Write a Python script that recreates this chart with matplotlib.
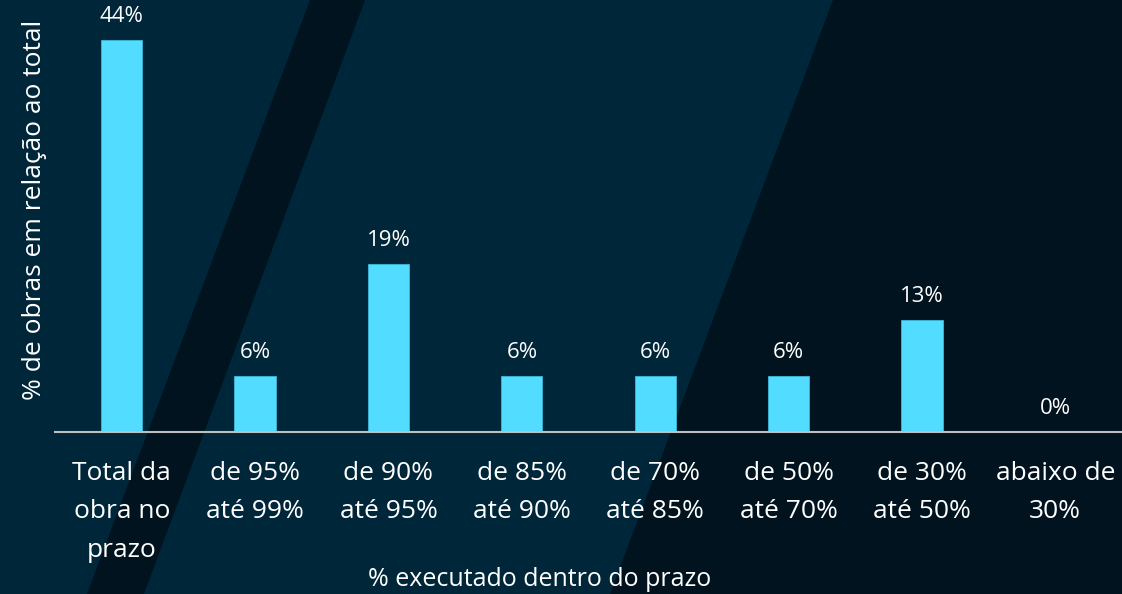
import matplotlib.pyplot as plt
from matplotlib.patches import Polygon

plt.rcParams['font.family'] = ['Open Sans', 'DejaVu Sans']

# dados do gráfico
categorias = ['Total da\nobra no\nprazo', 'de 95%\naté 99%', 'de 90%\naté 95%',
              'de 85%\naté 90%', 'de 70%\naté 85%', 'de 50%\naté 70%',
              'de 30%\naté 50%', 'abaixo de\n30%']
valores = [43.75, 6.25, 18.75, 6.25, 6.25, 6.25, 12.5, 0]

cor_fundo = '#002639'
cor_escura = '#00131F'
cor_barra = '#52DCFF'

W, H = 1122, 594
fig = plt.figure(figsize=(W / 100, H / 100), dpi=100)
fig.patch.set_facecolor(cor_fundo)

# fundo com faixas diagonais
bg = fig.add_axes([0, 0, 1, 1], zorder=0)
bg.set_xlim(0, W)
bg.set_ylim(H, 0)
bg.axis('off')
bg.add_patch(Polygon([(310, 0), (365, 0), (144, H), (87, H)], color=cor_escura, lw=0))
bg.add_patch(Polygon([(833, 0), (W, 0), (W, H), (610, H)], color=cor_escura, lw=0))

ax = fig.add_axes([55 / W, (H - 432) / H, 1 - 55 / W, 432 / H], zorder=1)
ax.patch.set_alpha(0)

x = range(len(valores))
ax.bar(x, valores, width=0.31, color=cor_barra, edgecolor='#3FB8D8', linewidth=0.6)
for xi, v in zip(x, valores):
    ax.annotate(f'{int(v + 0.5)}%', (xi, v), xytext=(0, 9), textcoords='offset points',
                ha='center', va='bottom', color='white', fontsize=16)

ax.set_xlim(-0.5, len(valores) - 0.5)
ax.set_ylim(0, 48.2)
ax.set_xticks(list(x))
ax.set_xticklabels(categorias, color='white', fontsize=19, linespacing=1.7)
ax.tick_params(axis='x', length=0, pad=21)
ax.set_yticks([])
for s in ['top', 'right', 'left']:
    ax.spines[s].set_visible(False)
ax.spines['bottom'].set_color('#BFBFBF')
ax.spines['bottom'].set_linewidth(1.5)

fig.text(540 / W, 1 - 579 / H, '% executado dentro do prazo', color='white',
         fontsize=18, ha='center', va='center')
fig.text(35 / W, 1 - 210 / H, '% de obras em relação ao total', rotation=90,
         color='white', fontsize=19, ha='center', va='center')

fig.savefig('out.png', dpi=100, facecolor=fig.get_facecolor())
